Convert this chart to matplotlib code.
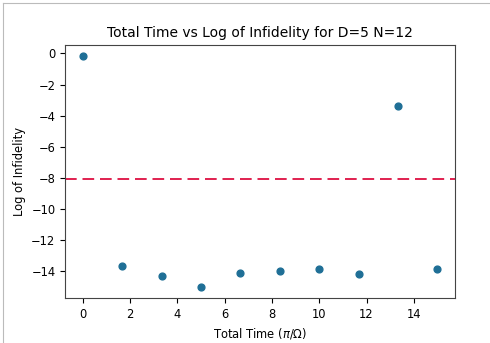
import matplotlib
matplotlib.use("Agg")
import matplotlib.pyplot as plt
from matplotlib.lines import Line2D

total_time = [0.0, 1.667, 3.333, 5.0, 6.667, 8.333, 10.0, 11.667, 13.333, 15.0]
log_infidelity = [-0.19, -13.7, -14.3, -15.0, -14.1, -14.0, -13.9, -14.2, -3.4, -13.9]
threshold = -8.1

fig = plt.figure(figsize=(4.9, 3.43), dpi=100)
ax = fig.add_axes([0.133, 0.131, 0.796, 0.738])
ax.scatter(total_time, log_infidelity, s=24, color='#1f6f96', zorder=3)
ax.axhline(threshold, color='#e0204f', linestyle=(0, (6, 3)), linewidth=1.4)
ax.set_title('Total Time vs Log of Infidelity for D=5 N=12', fontsize=10)
ax.set_xlabel('Total Time ($\\pi/\\Omega$)', fontsize=8.3)
ax.set_ylabel('Log of Infidelity', fontsize=8.3)
ax.tick_params(labelsize=8.3)
ax.set_xticks([0, 2, 4, 6, 8, 10, 12, 14])
ax.set_yticks([0, -2, -4, -6, -8, -10, -12, -14])
for s in ax.spines.values():
    s.set_color('#444444')

fig.add_artist(Line2D([0.006, 0.006], [0, 0.99], transform=fig.transFigure, color='#bbbbbb', lw=0.8))
fig.add_artist(Line2D([0.006, 1], [0.99, 0.99], transform=fig.transFigure, color='#bbbbbb', lw=0.8))

fig.savefig('out.png', dpi=100)
